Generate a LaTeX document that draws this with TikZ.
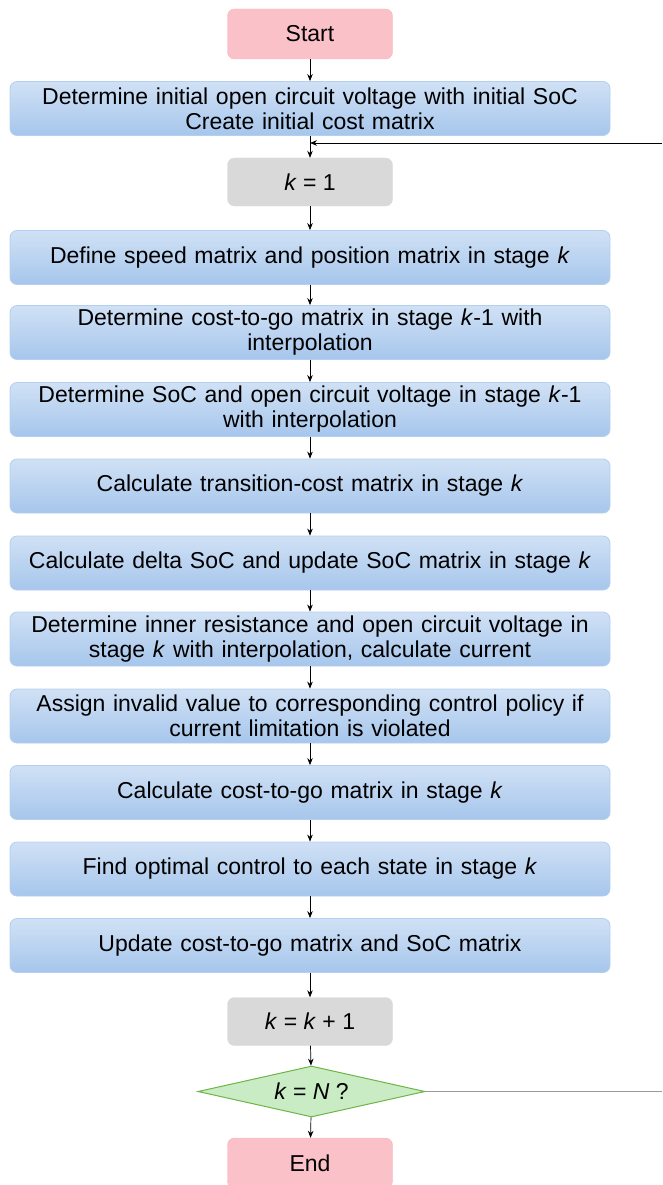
\documentclass[tikz,border=0pt]{standalone}
\usepackage{fontspec}
\setmainfont{Liberation Sans}
\usetikzlibrary{shapes.geometric,arrows.meta}
\definecolor{boxtop}{RGB}{208,225,245}
\definecolor{boxbot}{RGB}{166,198,236}
\definecolor{boxline}{RGB}{180,207,239}
\definecolor{pinkfill}{RGB}{251,193,201}
\definecolor{pinkline}{RGB}{248,180,190}
\definecolor{grayfill}{RGB}{217,217,217}
\definecolor{greenfill}{RGB}{201,236,196}
\definecolor{greenline}{RGB}{110,180,70}
\tikzset{
  every node/.style={font=\fontsize{23}{25}\selectfont, align=center, inner sep=2pt},
  bluebox/.style={rectangle, rounded corners=7pt, draw=boxline, line width=0.8pt,
    top color=boxtop, bottom color=boxbot, minimum width=600pt, minimum height=54pt, text width=596pt},
  pinkbox/.style={rectangle, rounded corners=7pt, draw=pinkline, fill=pinkfill, minimum width=165pt, minimum height=50pt},
  graybox/.style={rectangle, rounded corners=7pt, draw=grayfill, fill=grayfill, minimum width=165pt, minimum height=48pt},
  decide/.style={diamond, aspect=4.45, draw=greenline, line width=1pt, fill=greenfill, inner sep=0pt, minimum width=227pt, minimum height=51pt},
  arr/.style={-{Stealth[length=7pt,width=5.5pt]}, line width=0.7pt, black},
}
\begin{document}
\begin{tikzpicture}[x=1pt,y=-1pt]
\useasboundingbox (0,0) rectangle (662,1185);
\node[pinkbox] (start) at (310,34) {Start};
\node[bluebox] (b1) at (310,108.5) {Determine initial open circuit voltage with initial SoC\\Create initial cost matrix};
\node[graybox] (k1) at (310,182) {\textit{k} = 1};
\node[bluebox] (b2) at (310,257.5) {Define speed matrix and position matrix in stage \textit{k}};
\node[bluebox] (b3) at (310,332.5) {Determine cost-to-go matrix in stage \textit{k}-1 with\\interpolation};
\node[bluebox] (b4) at (310,409.5) {Determine SoC and open circuit voltage in stage \textit{k}-1\\with interpolation};
\node[bluebox] (b5) at (310,486) {Calculate transition-cost matrix in stage \textit{k}};
\node[bluebox] (b6) at (310,563) {Calculate delta SoC and update SoC matrix in stage \textit{k}};
\node[bluebox] (b7) at (310,639) {Determine inner resistance and open circuit voltage in\\stage \textit{k} with interpolation, calculate current};
\node[bluebox] (b8) at (310,716) {Assign invalid value to corresponding control policy if\\current limitation is violated};
\node[bluebox] (b9) at (310,792.5) {Calculate cost-to-go matrix in stage \textit{k}};
\node[bluebox] (b10) at (310,869) {Find optimal control to each state in stage \textit{k}};
\node[bluebox] (b11) at (310,945.5) {Update cost-to-go matrix and SoC matrix};
\node[graybox] (kk) at (310,1021.5) {\textit{k} = \textit{k} + 1};
\node[decide] (dec) at (311.5,1091.5) {\textit{k} = \textit{N} ?};
\node[pinkbox] (end) at (310,1163) {End};
\coordinate (fbin) at (662,143);
\coordinate (fbmid) at (310,143);
\coordinate (fbout) at (662,1091.5);
\draw[arr] (start) -- (b1);
\draw[arr] (b1) -- (k1);
\draw[arr] (k1) -- (b2);
\draw[arr] (b2) -- (b3);
\draw[arr] (b3) -- (b4);
\draw[arr] (b4) -- (b5);
\draw[arr] (b5) -- (b6);
\draw[arr] (b6) -- (b7);
\draw[arr] (b7) -- (b8);
\draw[arr] (b8) -- (b9);
\draw[arr] (b9) -- (b10);
\draw[arr] (b10) -- (b11);
\draw[arr] (b11) -- (kk);
\draw[arr] (kk) -- (dec);
\draw[arr] (dec) -- (end);
\draw[arr] (fbin) -- (fbmid);
\draw[line width=0.8pt, gray!80] (dec.east) -- (fbout);
\end{tikzpicture}
\end{document}
